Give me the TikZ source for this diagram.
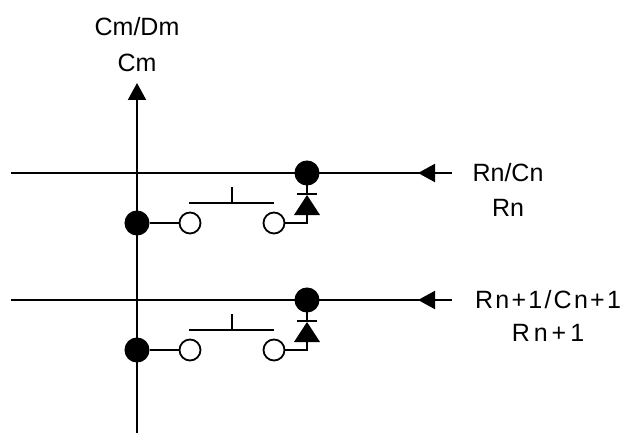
\documentclass[tikz,border=0pt]{standalone}
\usepackage{fontspec}
\setmainfont{Liberation Sans}
\newfontfamily\spacedfont[LetterSpace=9]{Liberation Sans}
\newfontfamily\widefont[LetterSpace=16]{Liberation Sans}
\usetikzlibrary{arrows.meta, calc}

\begin{document}
\begin{tikzpicture}[x=1pt, y=-1pt, line width=2pt, >={Triangle[length=17pt,width=18pt]}]
\tikzstyle{every node}=[font=\fontsize{25}{30}\selectfont]
\tikzstyle{dot}=[circle, fill=black, draw=black, inner sep=0pt, minimum size=23pt]
\tikzstyle{contact}=[circle, fill=white, draw=black, line width=1.8pt, inner sep=0pt, minimum size=21pt]
\useasboundingbox (0,0) rectangle (628,433);

% column line
\node (cmdm) at (137,27) {Cm/Dm};
\node (cm)   at (137,63) {Cm};
\coordinate (top) at (137,83);
\coordinate (bot) at (137,433);
\draw[->] (bot) -- (top);

% rows with key and diode
\foreach \r/\y in {1/173, 2/300} {
  \coordinate (w\r) at (11,\y);
  \coordinate (e\r) at (452,\y);
  \coordinate (t\r) at (418,\y);
  \draw (w\r) -- (e\r);
  \draw[->] (e\r) -- (t\r);
  \coordinate (k\r) at (307,\y+21);
  \coordinate (base\r) at (307,\y+42);
  \draw (307,\y) -- (k\r);
  \node[dot]     (d\r) at (307,\y) {};
  \node[dot]     (j\r) at (137,\y+50) {};
  \node[contact] (a\r) at (190,\y+50) {};
  \node[contact] (b\r) at (274,\y+50) {};
  \draw (j\r) -- (a\r);
  \draw (b\r.east) -| (base\r);
  % diode
  \draw ($(k\r)+(-10,0)$) -- ($(k\r)+(10,0)$);
  \fill ($(k\r)+(0,1)$) -- ($(base\r)+(13,0)$) -- ($(base\r)+(-13,0)$) -- cycle;
  % push key
  \draw (189,\y+30) -- (274,\y+30);
  \draw (232,\y+30) -- (232,\y+14);
}

\node (rn)   at (508,173) {Rn/Cn};
\node (rnb)  at (508,208) {Rn};
\node (rn1)  at (548,300) {\spacedfont Rn+1/Cn+1};
\node (rn1b) at (548,333) {\widefont Rn+1};
\end{tikzpicture}
\end{document}
